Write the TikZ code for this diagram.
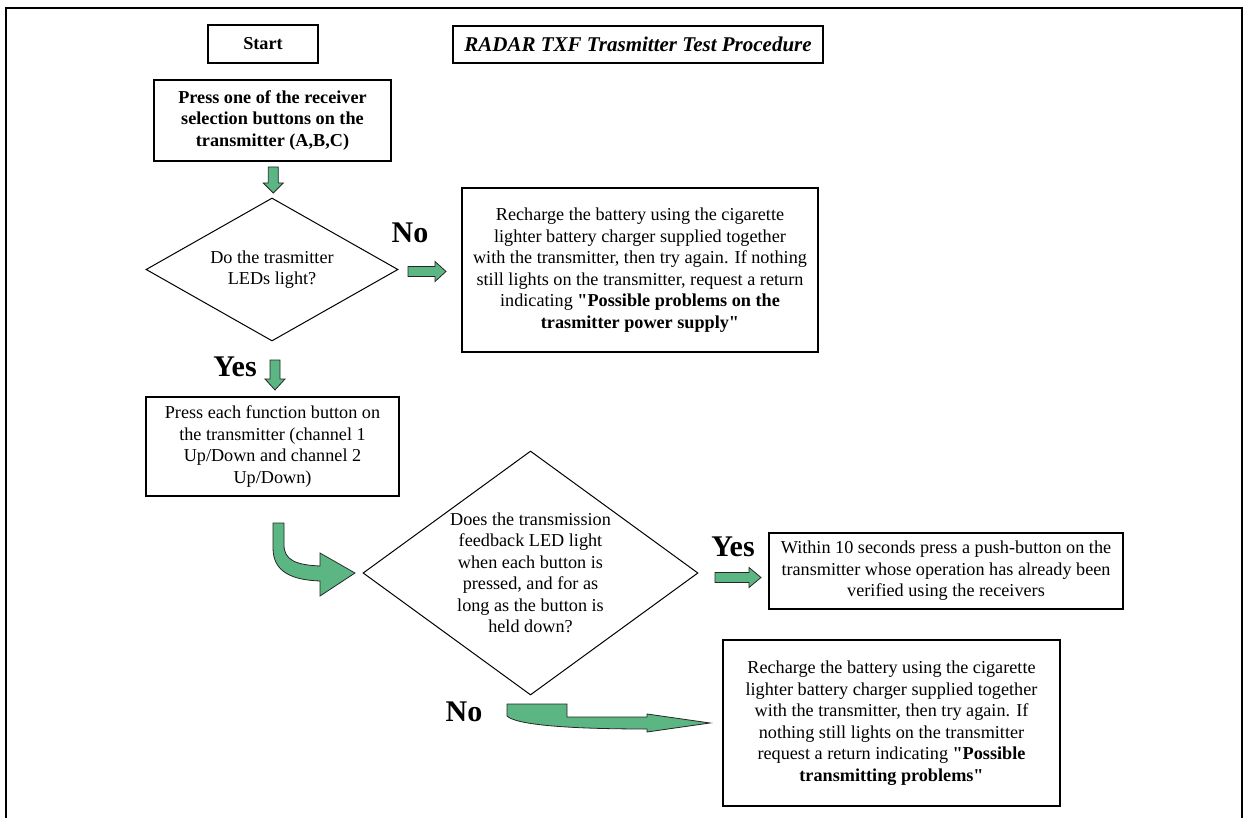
\documentclass[tikz,border=0pt]{standalone}
\usepackage{fontspec}
\setmainfont{Liberation Serif}
\usetikzlibrary{shapes.geometric}

\definecolor{arrowgreen}{RGB}{92,182,132}

\tikzset{
	txt/.style={font=\fontsize{18.2}{21.5}\selectfont, align=center, inner sep=0pt},
	thinbox/.style={txt, draw, line width=1.2},
	thickbox/.style={txt, draw, line width=2.6},
	decision/.style={txt, draw, diamond, line width=1, inner sep=-6pt},
	answer/.style={font=\fontsize{30}{30}\selectfont\bfseries, inner sep=0pt},
	garrow/.style={fill=arrowgreen, draw=black!85, line width=0.8, line join=miter}
}

\newcommand{\downblock}[4]{\draw[garrow] (#1-5,#2) -- (#1+5,#2) -- (#1+5,#3) -- (#1+10,#3) -- (#1,#4) -- (#1-10,#3) -- (#1-5,#3) -- cycle;}
\newcommand{\rightblock}[4]{\draw[garrow] (#2,#1-5) -- (#3,#1-5) -- (#3,#1-10) -- (#4,#1) -- (#3,#1+10) -- (#3,#1+5) -- (#2,#1+5) -- cycle;}

\begin{document}
\begin{tikzpicture}[x=1pt, y=-1pt]
	\useasboundingbox (0,0) rectangle (1245,818);
	\draw[line width=2.6] (6,820) -- (6,8) -- (1242,8) -- (1242,820);

	\node[thickbox, minimum width=110, minimum height=38] (start) at (263,44) {\bfseries Start};
	\node[thinbox, minimum width=370, minimum height=37] (title) at (638,44.5) {\fontsize{21}{24}\selectfont\bfseries\itshape RADAR TXF Trasmitter Test Procedure};
	\node[thickbox, minimum width=237, minimum height=81] (select) at (272.5,120.5) {\bfseries Press one of the receiver\\\bfseries selection buttons on the\\\bfseries transmitter (A,B,C)};

	\node[decision, shape aspect=1.76, minimum width=252, minimum height=143] (leds) at (272,269.5) {Do the trasmitter\\LEDs light?};
	\node[thickbox, minimum width=356, minimum height=164] (power) at (640,270) {Recharge the battery using the cigarette\\lighter battery charger supplied together\\with the transmitter, then try again. If nothing\\still lights on the transmitter, request a return\\indicating \textbf{\textquotedbl Possible problems on the}\\\textbf{trasmitter power supply\textquotedbl}};

	\node[thinbox, minimum width=253, minimum height=99] (press) at (272.5,446.5) {Press each function button on\\the transmitter (channel 1\\Up/Down and channel 2\\Up/Down)};

	\node[decision, shape aspect=1.37, minimum width=335, minimum height=244] (feedback) at (530.5,573) {Does the transmission\\feedback LED light\\when each button is\\pressed, and for as\\long as the button is\\held down?};
	\node[thinbox, minimum width=354, minimum height=76] (verify) at (946,571) {Within 10 seconds press a push-button on the\\transmitter whose operation has already been\\verified using the receivers};
	\node[thickbox, minimum width=337, minimum height=166] (transmit) at (891.5,723) {Recharge the battery using the cigarette\\lighter battery charger supplied together\\with the transmitter, then try again. If\\nothing still lights on the transmitter\\request a return indicating \textbf{\textquotedbl Possible}\\\textbf{transmitting problems\textquotedbl}};

	\node[answer] (no1) at (410,233) {No};
	\node[answer] (yes1) at (235,367) {Yes};
	\node[answer] (yes2) at (733,547) {Yes};
	\node[answer] (no2) at (464,712) {No};

	\downblock{273.3}{167}{183}{193}
	\downblock{275}{360}{379}{390}
	\rightblock{271.5}{408}{435}{446}
	\rightblock{577.5}{715}{749}{761}
	\draw[garrow] (273,523) -- (273,548) .. controls (273,572) and (292,580) .. (320,581) -- (320,596) -- (355,573) -- (320,553) -- (320,566) .. controls (296,565) and (284,560) .. (284,545) -- (284,523) -- cycle;
	\draw[garrow] (507,704) -- (567,704) -- (567,717) -- (647,717) -- (647,714) -- (710,723) -- (647,732) -- (647,729) .. controls (560,729) and (515,724) .. (507,716) -- cycle;
\end{tikzpicture}
\end{document}
